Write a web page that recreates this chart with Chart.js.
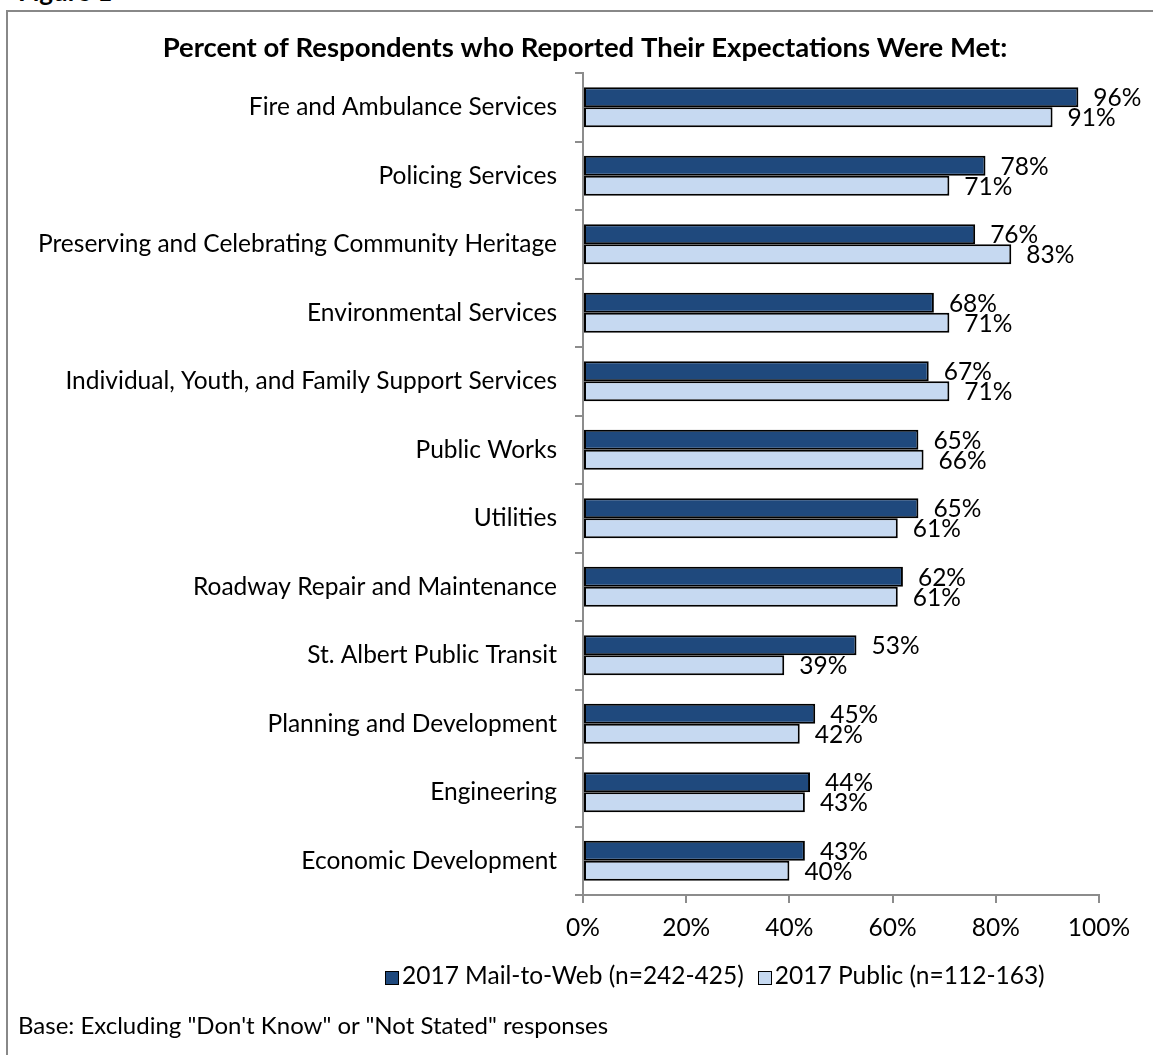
<!DOCTYPE html>
<html>
<head>
<meta charset="utf-8">
<title>Expectations Met</title>
<script src="https://cdn.jsdelivr.net/npm/chart.js@4.4.1/dist/chart.umd.min.js"></script>
<style>
  html, body { margin: 0; padding: 0; background: #fff; }
  body { width: 1153px; height: 1055px; position: relative; overflow: hidden; font-family: Lato, sans-serif; color: #000; }
  #frame { position: absolute; left: 6px; top: 10px; width: 1300px; height: 1200px;
           border-left: 2px solid #888; border-top: 2px solid #888; }
  #fig { position: absolute; left: 18px; top: -24px; font-size: 26px; font-weight: bold; line-height: 30px; }
  #chart { position: absolute; left: 0; top: 0; }
  #legend { position: absolute; left: 385px; top: 960px; font-size: 24.5px; line-height: 30px; white-space: nowrap; }
  #legend .item { display: inline-block; margin-right: 14px; }
  #legend .box { display: inline-block; width: 12px; height: 12px; border: 1.5px solid #000;
                 margin-right: 3px; vertical-align: -1px; }
  #note { position: absolute; left: 18px; top: 1010px; font-size: 24px; line-height: 30px; }
</style>
</head>
<body>
<div id="frame"></div>
<div id="fig">Figure 1</div>
<canvas id="chart" width="1153" height="1055"></canvas>
<div id="legend"></div>
<div id="note">Base: Excluding "Don't Know" or "Not Stated" responses</div>
<script>
// Services, top to bottom
const categories = [
  'Fire and Ambulance Services',
  'Policing Services',
  'Preserving and Celebrating Community Heritage',
  'Environmental Services',
  'Individual, Youth, and Family Support Services',
  'Public Works',
  'Utilities',
  'Roadway Repair and Maintenance',
  'St. Albert Public Transit',
  'Planning and Development',
  'Engineering',
  'Economic Development'
];

const seriesNames = ['2017 Mail-to-Web (n=242-425)', '2017 Public (n=112-163)'];

// percent whose expectations were met
const mailToWeb = [96, 78, 76, 68, 67, 65, 65, 62, 53, 45, 44, 43];
const publicSurvey = [91, 71, 83, 71, 71, 66, 61, 61, 39, 42, 43, 40];

const xTicks = [0, 20, 40, 60, 80, 100];

const colors = ['#1F497D', '#C6D9F1'];

Chart.defaults.font.family = 'Lato, sans-serif';
Chart.defaults.font.size = 24.5;
Chart.defaults.color = '#000';

// percent labels just past the end of each bar
const valueLabels = {
  id: 'valueLabels',
  afterDatasetsDraw(chart) {
    const ctx = chart.ctx;
    ctx.save();
    ctx.font = '24.5px Lato, sans-serif';
    ctx.fillStyle = '#000';
    ctx.textAlign = 'left';
    ctx.textBaseline = 'middle';
    chart.data.datasets.forEach((ds, i) => {
      chart.getDatasetMeta(i).data.forEach((bar, j) => {
        ctx.fillText(ds.data[j] + '%', bar.x + 15, bar.y + 1);
      });
    });
    ctx.restore();
  }
};

// title sits a little right of the canvas centre
const titleShift = {
  id: 'titleShift',
  afterLayout(chart) {
    if (chart.titleBlock) {
      chart.titleBlock.left = 71;
      chart.titleBlock.right = 1099;
    }
  }
};

const ctx = document.getElementById('chart').getContext('2d');

const chart = new Chart(ctx, {
  type: 'bar',
  data: {
    labels: categories,
    datasets: [
      {
        label: seriesNames[0],
        data: mailToWeb,
        backgroundColor: colors[0],
        borderColor: '#000',
        borderWidth: 2,
        borderSkipped: false,
        categoryPercentage: 0.584,
        barPercentage: 1
      },
      {
        label: seriesNames[1],
        data: publicSurvey,
        backgroundColor: colors[1],
        borderColor: '#000',
        borderWidth: 2,
        borderSkipped: false,
        categoryPercentage: 0.584,
        barPercentage: 1
      }
    ]
  },
  options: {
    indexAxis: 'y',
    responsive: false,
    animation: false,
    layout: { padding: { top: 0, right: 54, bottom: 118, left: 0 } },
    plugins: {
      legend: { display: false },
      tooltip: { enabled: false },
      title: {
        display: true,
        text: 'Percent of Respondents who Reported Their Expectations Were Met:',
        font: { size: 27.5, weight: 'bold' },
        color: '#000',
        padding: { top: 32, bottom: 8 }
      }
    },
    scales: {
      x: {
        min: 0,
        max: 100,
        afterBuildTicks(scale) {
          scale.ticks = xTicks.map(v => ({ value: v }));
        },
        ticks: { callback: v => v + '%', padding: 10, maxRotation: 0 },
        grid: { drawOnChartArea: false, tickLength: 8, color: '#8c8c8c', lineWidth: 2 },
        border: { color: '#8c8c8c', width: 2 },
        afterFit(scale) { scale.height = 42; }
      },
      y: {
        ticks: { padding: 18, autoSkip: false },
        grid: { drawOnChartArea: false, tickLength: 8, color: '#8c8c8c', lineWidth: 2, offset: true },
        border: { color: '#8c8c8c', width: 2 },
        afterFit(scale) { scale.width = 583; }
      }
    }
  },
  plugins: [valueLabels, titleShift]
});

// legend under the axis, built from the dataset names
const legend = document.getElementById('legend');
chart.data.datasets.forEach(ds => {
  const item = document.createElement('span');
  item.className = 'item';
  const box = document.createElement('span');
  box.className = 'box';
  box.style.background = ds.backgroundColor;
  item.appendChild(box);
  item.appendChild(document.createTextNode(ds.label));
  legend.appendChild(item);
});
</script>
</body>
</html>
